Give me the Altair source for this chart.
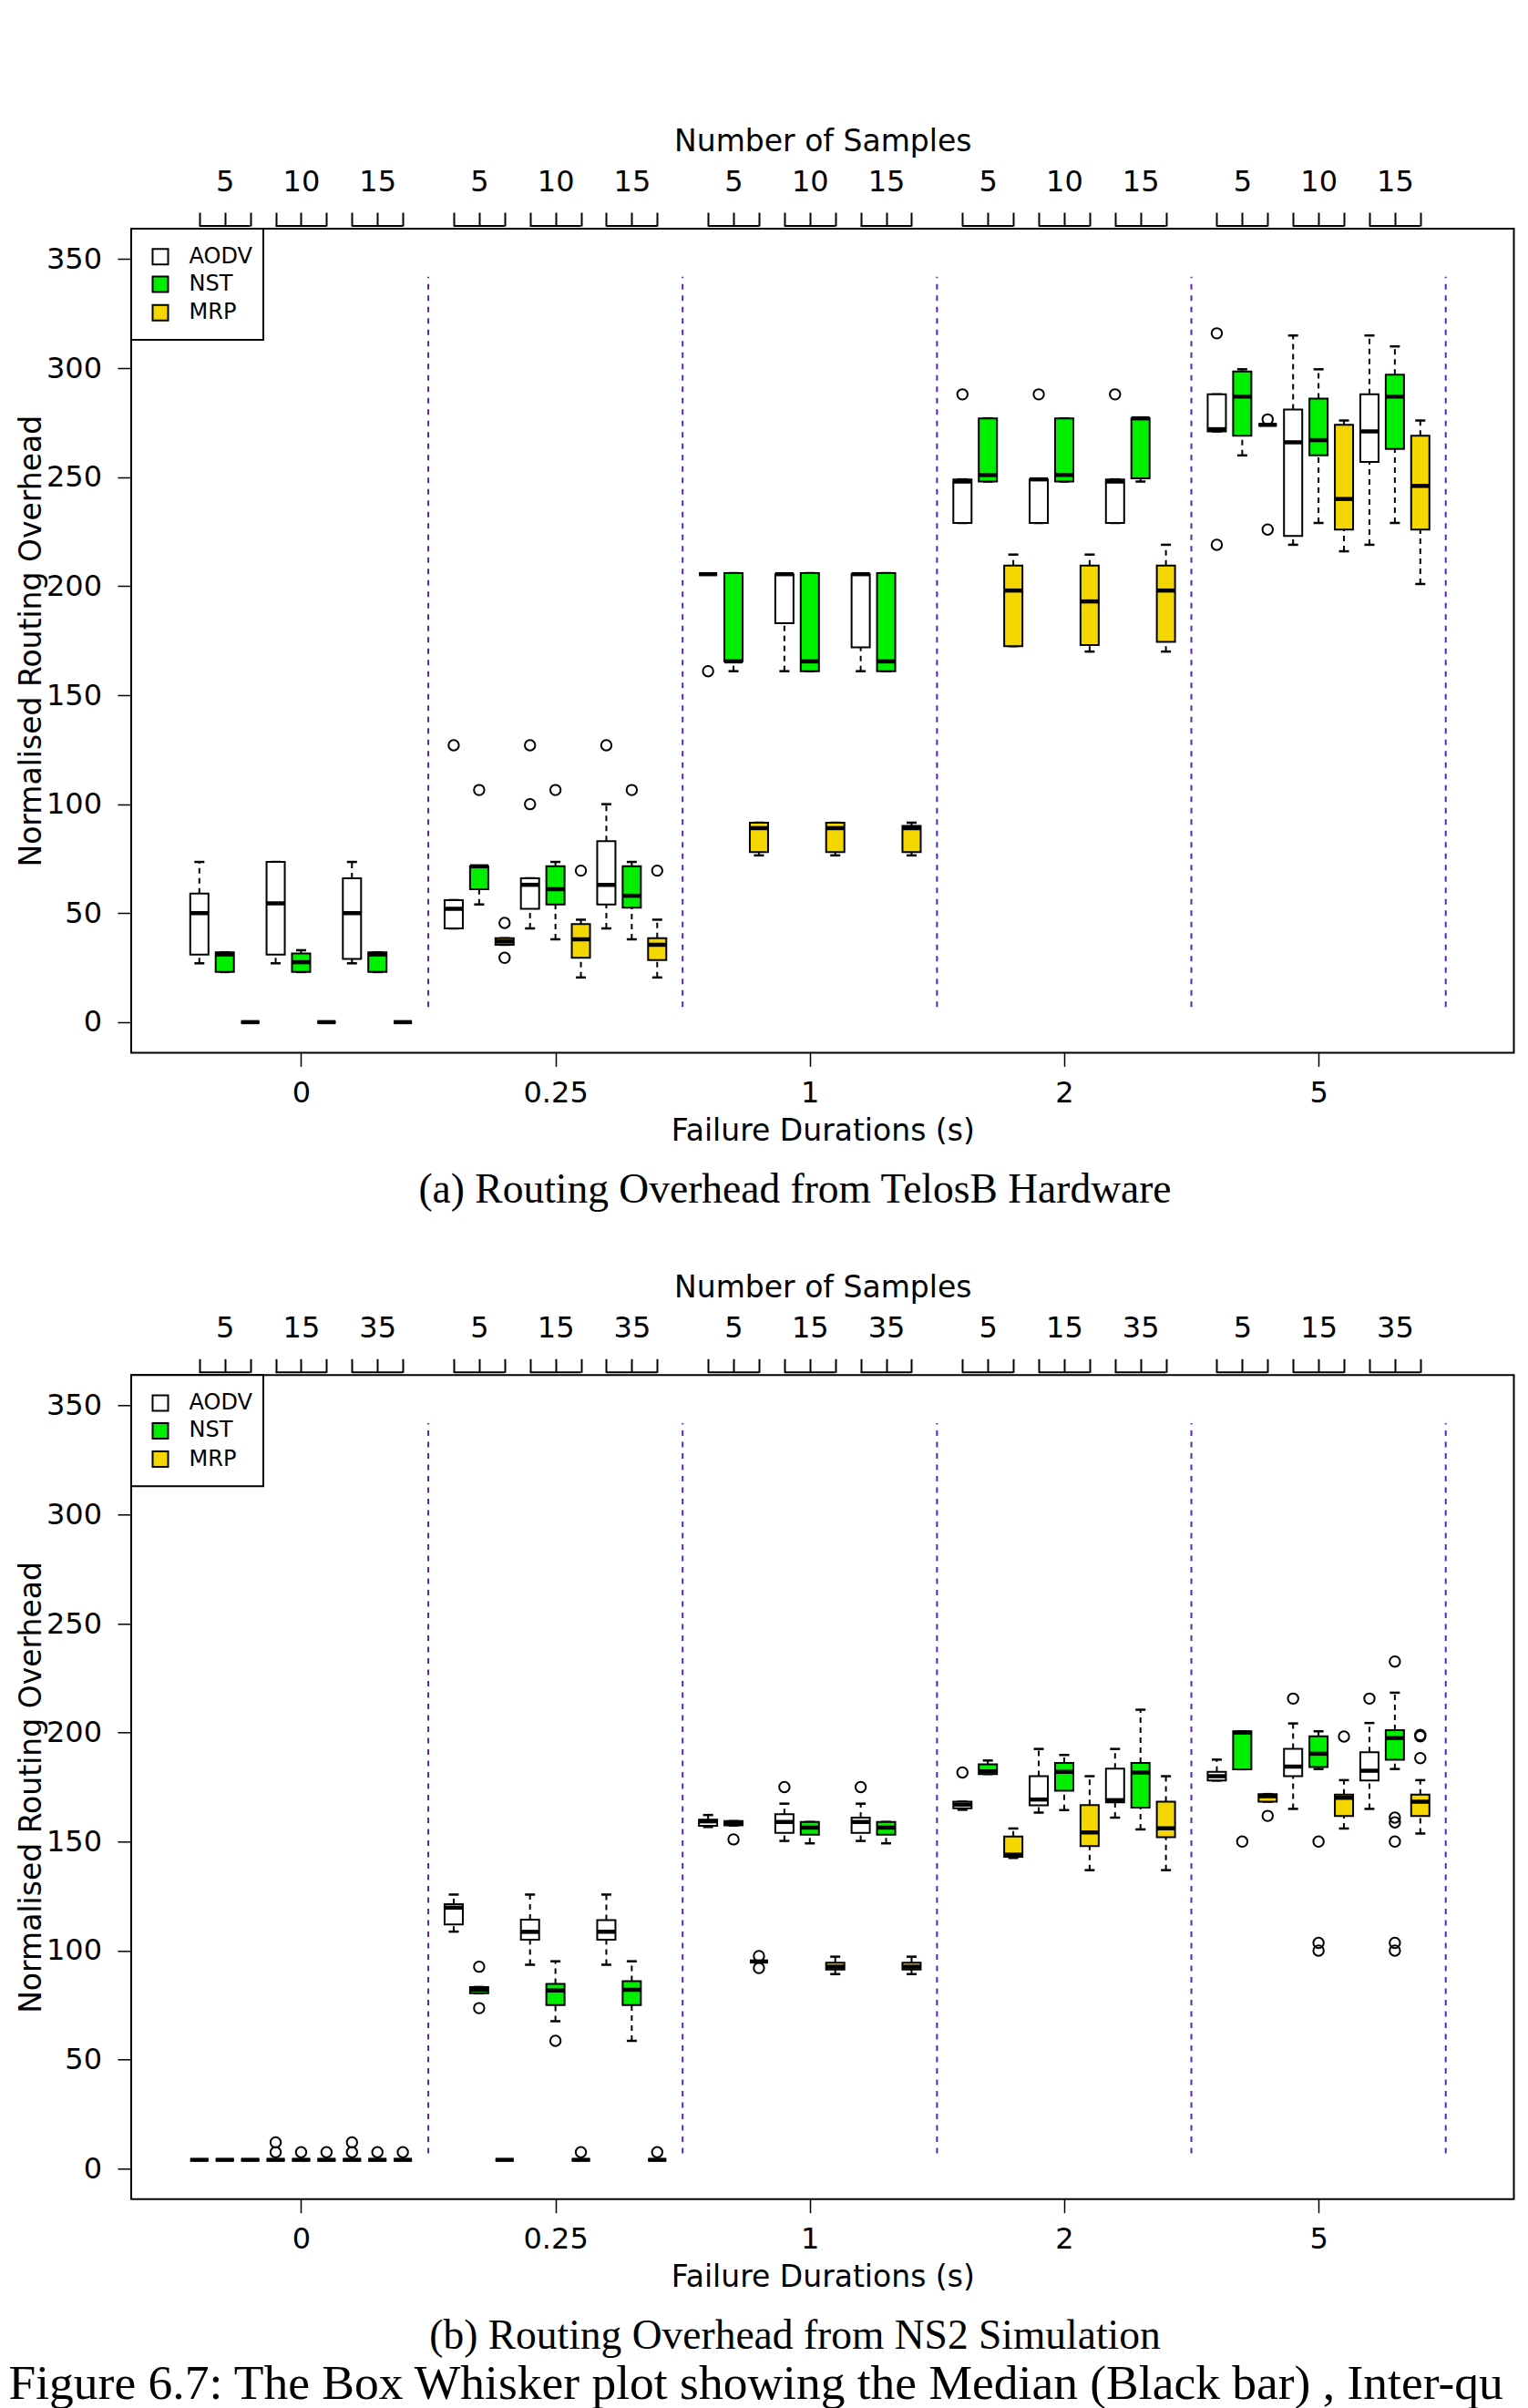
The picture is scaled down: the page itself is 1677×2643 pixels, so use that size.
import altair as alt
import pandas as pd

# ---------------- data ----------------
durations = ["0", "0.25", "1", "2", "5"]
samples_a = ["5", "10", "15"]
samples_b = ["5", "15", "35"]
protocols = ["AODV", "NST", "MRP"]
colors = ["#FFFFFF", "#00EE00", "#F4D600"]

# five-number summaries [lower whisker, Q1, median, Q3, upper whisker]
# order: duration 0 (3 sample sizes), 0.25, 1, 2, 5
a_aodv = [[27, 31, 50, 59, 73.5], [27, 31, 54.5, 73.5, 73.5], [27, 29, 50, 66, 73.5],
          [43, 43, 52, 56, 56], [43, 52, 63, 66, 66], [43, 54, 63, 83, 100],
          [205.5, 205.5, 205.5, 205.5, 205.5], [161, 183, 205.5, 205.5, 205.5], [161, 172, 205.5, 205.5, 205.5],
          [229, 229, 248, 249, 249], [229, 229, 249, 249, 249], [229, 229, 248, 249, 249],
          [271, 271, 272, 288, 288], [219, 223, 266, 281, 315], [219, 257, 271, 288, 315]]
a_aodv_out = [[], [], [], [127], [127, 100], [127], [161], [], [], [288], [288], [288], [316, 219], [], []]

a_nst = [[23, 23, 31, 32, 32], [23, 23, 27.5, 31.5, 33], [23, 23, 31, 32, 32],
         [54, 61, 71.5, 71.5, 71.5], [38, 54, 61, 71.5, 73.5], [38, 52.5, 58, 71.5, 73.5],
         [161, 165.5, 165.5, 206, 206], [161, 161, 165.5, 206, 206], [161, 161, 165.5, 206, 206],
         [248, 248, 251, 277, 277], [248, 248, 251, 277, 277], [248, 249.5, 277, 277, 277],
         [260, 269, 287, 298.5, 299.5], [229, 260, 267, 286, 299.5], [229, 263, 287, 297, 310]]
a_nst_out = [[], [], [], [106.5], [106.5], [106.5], [], [], [], [], [], [], [], [], []]

a_mrp = [[0, 0, 0, 0, 0], [0, 0, 0, 0, 0], [0, 0, 0, 0, 0],
         [35.5, 35.5, 37, 38.5, 38.5], [20.5, 29.5, 38, 45, 47], [20.5, 28.5, 35.5, 38.5, 47],
         [76.5, 78, 89, 91.5, 91.5], [76.5, 78, 89, 91.5, 91.5], [76.5, 78, 89, 90, 91.5],
         [172.5, 172.5, 198, 209.5, 214.5], [170, 173, 193, 209.5, 214.5], [170, 174.5, 198, 209.5, 219],
         [274, 274, 274, 274, 274], [216, 226, 240, 274, 276], [201, 226, 246, 269, 276]]
a_mrp_out = [[], [], [], [45.5, 29.5], [69.5], [69.5], [], [], [], [], [], [], [276.5, 226], [], []]

b_aodv = [[4, 4, 4, 4, 4], [4, 4, 4, 4, 4], [4, 4, 4, 4, 4],
          [108.7, 112, 119.7, 121.3, 125.7], [93.5, 105, 108.6, 114.2, 125.7], [93.5, 105, 108.6, 114, 125.7],
          [156.7, 157.2, 159.3, 160.1, 162.2], [150.3, 154, 159, 162.6, 167.4], [150.3, 154, 159, 161, 167.4],
          [164.6, 165.3, 167, 168.3, 168.3], [163.3, 166.6, 169.3, 180, 192.5], [161, 168, 169, 183.5, 192.5],
          [178, 178, 180, 182, 187.6], [165, 180, 184.4, 192.6, 204.2], [165, 178, 182.5, 191, 204.4]]
b_aodv_out = [[], [7.5, 12], [7.5, 12], [], [], [], [], [175], [175], [181.7], [], [], [], [215.6], [215.6]]

b_nst = [[4, 4, 4, 4, 4], [4, 4, 4, 4, 4], [4, 4, 4, 4, 4],
         [80.4, 80.4, 82, 83.3, 83.3], [67.6, 75, 81.7, 84.7, 95.1], [58.6, 75, 82, 86, 95.1],
         [157.4, 157.4, 158.6, 159.4, 159.4], [149.2, 153.2, 156.4, 159, 159], [149.2, 153.2, 156.4, 159, 159],
         [181, 181, 182.2, 185.4, 187.2], [164.4, 173.3, 182, 186.1, 189.7], [155.6, 165.6, 181.7, 186.1, 210.5],
         [183.2, 183.2, 200, 200.6, 200.6], [183.3, 184.2, 190.3, 198.3, 200.6], [183.3, 187.5, 197.5, 201.1, 218.3]]
b_nst_out = [[], [7.5], [7.5], [92.6, 73.6], [58.6], [], [151], [], [], [], [], [],
             [150], [150, 103.5, 100], [232.6, 161, 158.8, 150, 103.5, 100]]

b_mrp = [[4, 4, 4, 4, 4], [4, 4, 4, 4, 4], [4, 4, 4, 4, 4],
         [4, 4, 4, 4, 4], [4, 4, 4, 4, 4], [4, 4, 4, 4, 4],
         [95, 95, 95, 95, 95], [89.2, 91.3, 92.6, 94.4, 97.2], [89.2, 91.3, 92.6, 94.4, 97.2],
         [142.5, 143, 144, 152.3, 156], [136.9, 147.9, 154.2, 166.7, 180], [136.9, 152, 156.1, 168.3, 180],
         [168.3, 168.3, 170.8, 171.8, 171.8], [156, 161.7, 170.1, 171.5, 178.2], [153.7, 161.7, 168.3, 171.5, 178.2]]
b_mrp_out = [[], [7.5], [7.5], [], [7.5], [7.5], [97.5, 92], [], [], [], [], [],
             [161.8], [198.2], [198.9, 198.3, 188.3]]

y_ticks = [0, 50, 100, 150, 200, 250, 300, 350]
caption_a = "(a) Routing Overhead from TelosB Hardware"
caption_b = "(b) Routing Overhead from NS2 Simulation"
figure_caption = "Figure 6.7: The Box Whisker plot showing the Median (Black bar) , Inter-quar"

# ---------------- layout constants ----------------
W, H = 1517.5, 904.4
xscale = alt.Scale(domain=[-1.5, 52.5], nice=False, zero=False)
yscale = alt.Scale(domain=[-14, 364], nice=False, zero=False)
FONT = "DejaVu Sans"
SERIF = "Liberation Serif"


def slot_of(g, s, p):
    return 1 + 10 * g + 3 * s + p


def build_tables(stats_list, outs_list):
    rows, outs = [], []
    for p, (stats, olist) in enumerate(zip(stats_list, outs_list)):
        for i, (st, ol) in enumerate(zip(stats, olist)):
            g, s = divmod(i, 3)
            sl = slot_of(g, s, p)
            rows.append(dict(slot=sl, lo=st[0], q1=st[1], med=st[2], q3=st[3], hi=st[4],
                             fill=colors[p], proto=protocols[p]))
            for v in ol:
                outs.append(dict(slot=sl, v=v))
    return pd.DataFrame(rows), pd.DataFrame(outs)


def js_list(items):
    return "[" + ",".join("'" + t + "'" for t in items) + "]"


def panel(stats_list, outs_list, sample_labels, caption, anchor=False, fig_caption=None):
    box_df, out_df = build_tables(stats_list, outs_list)
    trip = [dict(start=slot_of(g, s, 0), end=slot_of(g, s, 2)) for g in range(5) for s in range(3)]
    trip_df = pd.DataFrame(trip)
    box_slots = sorted(box_df["slot"].tolist())
    sep_df = pd.DataFrame({"s": [10, 20, 30, 40, 50]})

    bottom_axis = alt.Axis(
        orient="bottom", values=[5, 15, 25, 35, 45],
        labelExpr=js_list(durations) + "[round((datum.value-5)/10)]",
        title="Failure Durations (s)", domain=False, grid=False,
        tickSize=15, tickWidth=1.5, labelFontSize=32, labelPadding=14,
        labelFlush=False, labelOverlap=False,
        titleFontSize=33, titleX=W / 2, titleY=86, titleAlign="center", titleBaseline="middle")
    top_axis = alt.Axis(
        orient="top", values=box_slots, offset=3,
        labelExpr="(datum.value-1)%10%3==1 ? " + js_list(sample_labels)
                  + "[floor(((datum.value-1)%10)/3)] : ''",
        title="Number of Samples", domain=False, grid=False,
        tickSize=15, tickWidth=2, labelFontSize=32, labelPadding=17,
        labelFlush=False, labelOverlap=False,
        titleFontSize=33, titleX=W / 2, titleY=-93, titleAlign="center", titleBaseline="middle")
    y_axis = alt.Axis(
        values=y_ticks, title="Normalised Routing Overhead", domain=False, grid=False,
        tickSize=15, tickWidth=1.5, labelFontSize=32, labelPadding=17.5,
        labelFlush=False, labelOverlap=False,
        titleFontSize=33, titleX=-109.5, titleY=H / 2, titleAngle=-90,
        titleAlign="center", titleBaseline="middle")

    def X(f, axis=None):
        return alt.X(f, type="quantitative", scale=xscale, axis=axis)

    def Y(f, axis=None):
        return alt.Y(f, type="quantitative", scale=yscale, axis=axis)

    layers = []
    if anchor:
        layers.append(alt.Chart(pd.DataFrame({"a": [0]})).mark_rect(opacity=0).encode(
            x=alt.value(-134.5), x2=alt.value(0), y=alt.value(-241.6), y2=alt.value(0)))

    base = alt.Chart(box_df)
    boxes = base.mark_bar(size=20, stroke="black", strokeWidth=2).encode(
        x=X("slot", bottom_axis), y=Y("q1", y_axis), y2="q3:Q",
        fill=alt.Fill("fill:N", scale=None))
    seps = alt.Chart(sep_df).mark_rule(color="#5522CC", strokeWidth=2, strokeDash=[6, 6.5]).encode(
        x=X("s"), y=alt.YDatum(7, scale=yscale, axis=None), y2=alt.Y2Datum(342))
    brackets = alt.Chart(trip_df).mark_rule(color="black", strokeWidth=2).encode(
        x=X("start", top_axis), x2="end:Q", y=alt.value(-3))
    wh_up = base.mark_rule(color="black", strokeWidth=2, strokeDash=[6, 5]).encode(
        x=X("slot"), y=Y("q3"), y2="hi:Q")
    wh_lo = base.mark_rule(color="black", strokeWidth=2, strokeDash=[6, 5]).encode(
        x=X("slot"), y=Y("lo"), y2="q1:Q")
    cap_up = base.mark_tick(orient="horizontal", size=11, thickness=2.5, color="black", opacity=1).encode(
        x=X("slot"), y=Y("hi"))
    cap_lo = base.mark_tick(orient="horizontal", size=11, thickness=2.5, color="black", opacity=1).encode(
        x=X("slot"), y=Y("lo"))
    medians = base.mark_tick(orient="horizontal", size=20, thickness=4.5, color="black", opacity=1).encode(
        x=X("slot"), y=Y("med"))
    outliers = alt.Chart(out_df).mark_point(shape="circle", filled=False, size=130, strokeWidth=2,
                                            color="black", opacity=1).encode(
        x=X("slot"), y=Y("v"))
    layers += [seps, brackets, wh_up, wh_lo, cap_up, cap_lo, boxes, medians, outliers]

    # legend
    layers.append(alt.Chart(pd.DataFrame({"a": [0]})).mark_rect(
        fill="white", stroke="black", strokeWidth=2).encode(
        x=alt.value(0), x2=alt.value(145), y=alt.value(0), y2=alt.value(122)))
    leg_y = [30.8, 61.1, 92.2]
    for i, name in enumerate(protocols):
        d = pd.DataFrame({"t": [name]})
        layers.append(alt.Chart(d).mark_square(size=289, fill=colors[i], stroke="black",
                                               strokeWidth=2, opacity=1).encode(
            x=alt.value(32), y=alt.value(leg_y[i])))
        layers.append(alt.Chart(d).mark_text(align="left", baseline="middle", fontSize=24,
                                             font=FONT, color="black").encode(
            x=alt.value(63.5), y=alt.value(leg_y[i]), text="t:N"))

    layers.append(alt.Chart(pd.DataFrame({"t": [caption]})).mark_text(
        align="center", baseline="middle", fontSize=45.5, font=SERIF, color="black").encode(
        x=alt.value(728.5), y=alt.value(1054.5), text="t:N"))
    if fig_caption:
        layers.append(alt.Chart(pd.DataFrame({"t": [fig_caption]})).mark_text(
            align="left", baseline="middle", fontSize=53.5, font=SERIF, color="black",
            limit=1658, ellipsis="\u200b").encode(
            x=alt.value(-134.5), y=alt.value(1107.5), text="t:N"))

    return alt.layer(*layers).resolve_axis(x="independent", y="independent").properties(width=W, height=H)


panel_a = panel([a_aodv, a_nst, a_mrp], [a_aodv_out, a_nst_out, a_mrp_out], samples_a, caption_a, anchor=True)
panel_b = panel([b_aodv, b_nst, b_mrp], [b_aodv_out, b_nst_out, b_mrp_out], samples_b, caption_b,
                fig_caption=figure_caption)

chart = alt.vconcat(panel_a, panel_b, spacing=353.3, bounds="flush").properties(
    padding=0, autosize=alt.AutoSizeParams(type="pad")
).configure_view(stroke="black", strokeWidth=2).configure_axis(
    labelFont=FONT, titleFont=FONT, labelColor="black", titleColor="black",
    tickColor="black", titleFontWeight="normal")

chart.save("out.html", embed_options={"renderer": "svg", "actions": False})
